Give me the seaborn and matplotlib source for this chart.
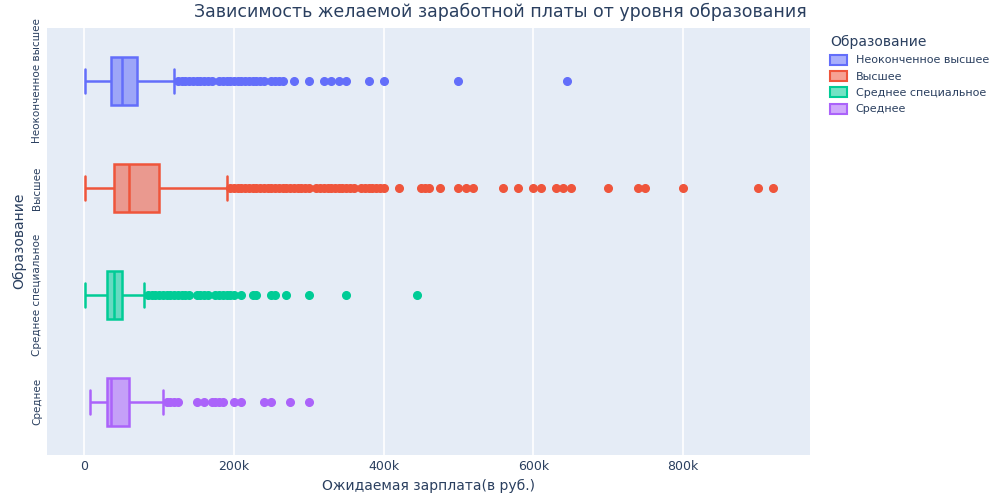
import numpy as np
import pandas as pd
import matplotlib
matplotlib.use("Agg")
import matplotlib.pyplot as plt
import matplotlib.colors as mcolors
from matplotlib.patches import Patch
from matplotlib.ticker import FuncFormatter
import seaborn as sns

categories = ["Неоконченное высшее", "Высшее", "Среднее специальное", "Среднее"]
colors = ["#636EFA", "#EF553B", "#00CC96", "#AB63FA"]

# box stats (low whisker, q1, median, q3, high whisker)
box_stats = {
    "Неоконченное высшее": [1000, 35000, 50000, 70000, 120000],
    "Высшее": [1000, 40000, 60000, 100000, 190000],
    "Среднее специальное": [1000, 30000, 40000, 50000, 80000],
    "Среднее": [7000, 30000, 35000, 60000, 105000],
}
outliers = {
    "Неоконченное высшее": [125000, 130000, 135000, 140000, 145000, 150000, 155000, 160000, 165000,
                            170000, 180000, 185000, 190000, 195000, 200000, 205000, 210000, 215000,
                            220000, 225000, 230000, 235000, 240000, 250000, 255000, 260000, 265000,
                            280000, 300000, 320000, 330000, 340000, 350000, 380000, 400000, 500000, 645000],
    "Высшее": [195000, 200000, 205000, 210000, 215000, 220000, 225000, 230000, 235000, 240000, 245000,
               250000, 255000, 260000, 265000, 270000, 275000, 280000, 285000, 290000, 295000, 300000,
               310000, 315000, 320000, 325000, 330000, 335000, 340000, 345000, 350000, 355000, 360000,
               370000, 375000, 380000, 385000, 390000, 395000, 400000, 420000, 450000, 455000, 460000,
               475000, 500000, 510000, 520000, 560000, 580000, 600000, 610000, 630000, 640000, 650000,
               700000, 740000, 750000, 800000, 900000, 920000],
    "Среднее специальное": [85000, 90000, 95000, 100000, 105000, 110000, 115000, 120000, 125000,
                            130000, 135000, 140000, 150000, 155000, 160000, 165000, 175000, 180000,
                            185000, 190000, 195000, 200000, 210000, 225000, 230000, 250000, 255000,
                            270000, 300000, 350000, 445000],
    "Среднее": [110000, 115000, 120000, 125000, 150000, 160000, 170000, 175000, 180000, 185000,
                200000, 210000, 240000, 250000, 275000, 300000],
}

rows = []
for cat in categories:
    lo, q1, med, q3, hi = box_stats[cat]
    vals = [lo] + [q1] * 300 + [med] * 300 + [q3] * 300 + [hi] + outliers[cat]
    rows += [(cat, v) for v in vals]
df = pd.DataFrame(rows, columns=["edu", "salary"])

sns.set_theme(style="darkgrid")
fig, ax = plt.subplots(figsize=(10, 5), dpi=100)
ax.set_facecolor("#E5ECF6")

for cat, c in zip(categories, colors):
    sub = df[df["edu"] == cat]
    n_before = len(ax.patches)
    sns.boxplot(data=sub, x="salary", y="edu", order=categories, color=c, linecolor=c,
                width=0.45, linewidth=1.8, whis=1.5, ax=ax,
                flierprops=dict(marker="o", markerfacecolor=c, markeredgecolor=c, markersize=5.5))
    for p in ax.patches[n_before:]:
        p.set_facecolor(mcolors.to_rgba(c, 0.55))
        p.set_edgecolor(c)

ax.set_xlim(-50000, 970000)
ax.set_xticks([0, 200000, 400000, 600000, 800000])
ax.xaxis.set_major_formatter(FuncFormatter(lambda v, _: "0" if v == 0 else f"{int(v/1000)}k"))
ax.grid(axis="x", color="white", linewidth=1.2)
ax.grid(axis="y", visible=False)
for s in ax.spines.values():
    s.set_visible(False)
ax.tick_params(axis="both", labelsize=9, colors="#2a3f5f", length=0)
plt.setp(ax.get_yticklabels(), rotation=90, va="center", fontsize=7.5)
ax.set_xlabel("Ожидаемая зарплата(в руб.)", fontsize=10, color="#2a3f5f")
ax.set_ylabel("Образование", fontsize=10, color="#2a3f5f")
fig.suptitle("Зависимость желаемой заработной платы от уровня образования",
             fontsize=12.5, color="#2a3f5f", x=0.5, y=0.995)

handles = [Patch(facecolor=mcolors.to_rgba(c, 0.55), edgecolor=c, linewidth=1.5, label=cat)
           for cat, c in zip(categories, colors)]
leg = fig.legend(handles=handles, title="Образование", loc="upper left",
                 bbox_to_anchor=(0.82, 0.95), frameon=False, fontsize=8, title_fontsize=10,
                 handlelength=1.5, handleheight=1.0)
leg._legend_box.align = "left"
for t in leg.get_texts():
    t.set_color("#2a3f5f")
leg.get_title().set_color("#2a3f5f")

fig.subplots_adjust(left=0.047, right=0.81, top=0.945, bottom=0.09)
fig.savefig("out.png")
